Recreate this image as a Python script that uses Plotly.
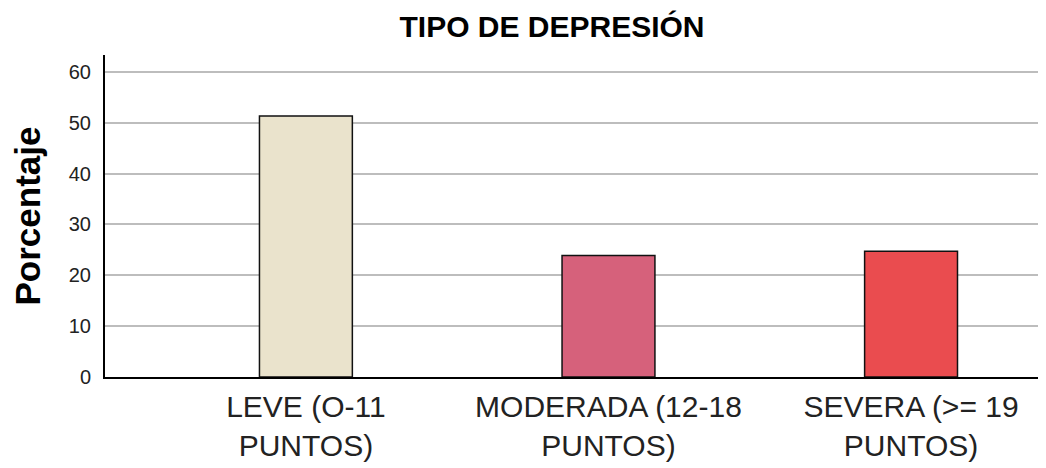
import plotly.graph_objects as go

categories = ["LEVE (O-11<br>PUNTOS)", "MODERADA (12-18<br>PUNTOS)", "SEVERA (>= 19<br>PUNTOS)"]
percentages = [51.3, 23.9, 24.7]
bar_colors = ["#EAE3CC", "#D6617B", "#EA4C4F"]
y_ticks = [0, 10, 20, 30, 40, 50, 60]

W, H = 1038, 460  # page body adds an 8px offset

fig = go.Figure()
fig.add_trace(go.Bar(
    x=categories,
    y=percentages,
    width=0.307,
    marker=dict(color=bar_colors, line=dict(color="#111111", width=1.5)),
))

fig.update_layout(
    width=W, height=H,
    margin=dict(l=97, r=0, t=47, b=91, autoexpand=False),
    paper_bgcolor="white",
    plot_bgcolor="white",
    showlegend=False,
    title=dict(
        text="<b>TIPO DE DEPRESIÓN</b>",
        x=544/W, xanchor="center", xref="container",
        y=1 - 18/H, yanchor="middle", yref="container",
        font=dict(family="Liberation Sans, Arial, sans-serif", size=30, color="black"),
    ),
    font=dict(family="Liberation Sans, Arial, sans-serif", color="black"),
)

fig.update_xaxes(
    range=[-0.664, 2.446],
    automargin=False,
    showline=True, linecolor="black", linewidth=2,
    ticks="", showgrid=False,
    tickfont=dict(size=30, color="#222222"),
    ticklabelstandoff=2,
)
fig.update_yaxes(
    range=[0, 63.3],
    automargin=False,
    tickvals=y_ticks,
    showline=True, linecolor="black", linewidth=2,
    showgrid=True, gridcolor="#BDBDBD", gridwidth=1.5,
    zeroline=False,
    ticks="", ticklabelstandoff=8,
    tickfont=dict(size=20, color="#222222"),
    title=dict(text="<b>Porcentaje</b>", font=dict(size=35, color="black"), standoff=23),
)

fig.write_html("out.html")
